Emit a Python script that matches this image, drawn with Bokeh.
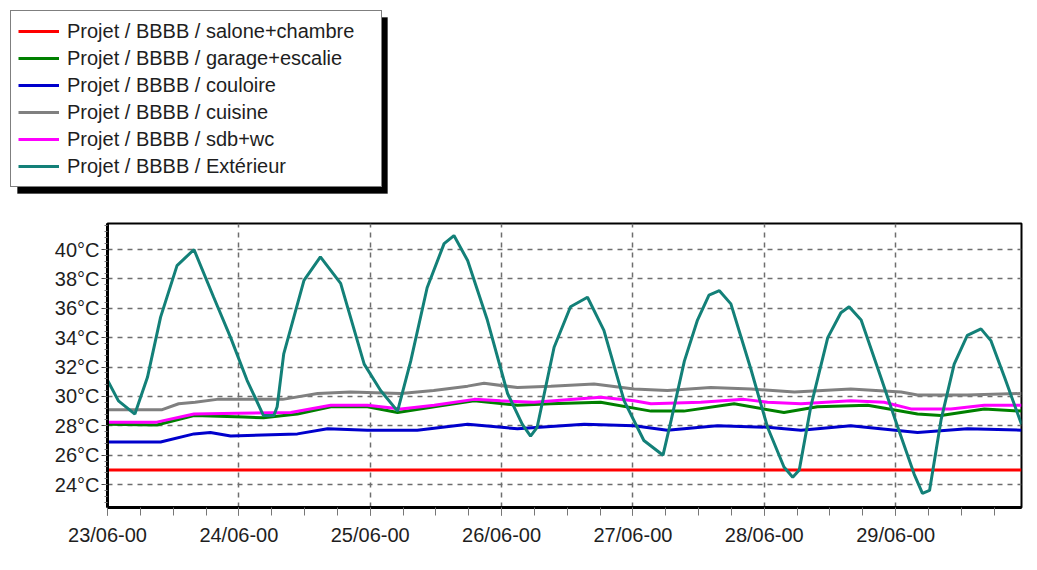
from bokeh.plotting import figure
from bokeh.layouts import column, row
from bokeh.models import (Range1d, FixedTicker, Legend, LegendItem, BoxAnnotation)
from bokeh.embed import file_html
from bokeh.resources import INLINE

# ---- data (hours since 23/06 00:00, temperature in °C) ----
x_tick_hours = [0, 24, 48, 72, 96, 120, 144]
x_tick_labels = ["23/06-00", "24/06-00", "25/06-00", "26/06-00", "27/06-00", "28/06-00", "29/06-00"]
y_tick_values = [24, 26, 28, 30, 32, 34, 36, 38, 40]
y_tick_labels = ["24°C", "26°C", "28°C", "30°C", "32°C", "34°C", "36°C", "38°C", "40°C"]

series_names = ["Projet / BBBB / salone+chambre", "Projet / BBBB / garage+escalie",
                "Projet / BBBB / couloire", "Projet / BBBB / cuisine",
                "Projet / BBBB / sdb+wc", "Projet / BBBB / Extérieur"]

salon_h = [0, 167]
salon_t = [25.0, 25.0]

garage_h = [0, 9, 15.8, 24.9, 28.5, 34.7, 40.8, 47.5, 53, 59.7, 67, 74.9, 81, 90.1, 99.3,
            105.3, 114.5, 123.6, 129.7, 138.9, 148, 152.3, 160.2, 167]
garage_t = [28.1, 28.05, 28.7, 28.6, 28.55, 28.8, 29.3, 29.3, 28.9, 29.3, 29.7, 29.4, 29.5, 29.6, 29.0,
            29.0, 29.5, 28.9, 29.3, 29.4, 28.8, 28.7, 29.15, 29.0]

couloir_h = [0, 9.7, 15.8, 18.8, 22.5, 34.7, 40.2, 47.5, 56.6, 65.8, 74.9, 87.1, 96.2, 102.3,
             111.4, 120.6, 126.7, 135.8, 148, 157.1, 167]
couloir_t = [26.9, 26.9, 27.45, 27.55, 27.3, 27.45, 27.8, 27.7, 27.7, 28.1, 27.8, 28.1, 28.0, 27.7,
             28.0, 27.9, 27.7, 28.0, 27.55, 27.8, 27.7]

cuisine_h = [0, 10, 13, 16, 20, 24, 32, 38.4, 44.4, 53.6, 59.6, 65.8, 68.8, 74.9, 81, 88.9, 96.2,
             102.3, 110.2, 117.6, 125.5, 135.8, 145, 148, 157.1, 167]
cuisine_t = [29.1, 29.1, 29.5, 29.6, 29.8, 29.8, 29.8, 30.2, 30.3, 30.2, 30.4, 30.7, 30.9, 30.6, 30.7,
             30.85, 30.5, 30.4, 30.6, 30.5, 30.3, 30.5, 30.3, 30.1, 30.1, 30.2]

sdb_h = [0, 9, 15.8, 23.8, 33.5, 40.8, 47.5, 53.6, 59.7, 67, 71.8, 77.9, 90.1, 96.2, 99.3, 108.4,
         116.3, 120.6, 126.7, 135.8, 141.9, 146.8, 154.1, 160.2, 167]
sdb_t = [28.25, 28.25, 28.8, 28.85, 28.9, 29.4, 29.4, 29.15, 29.4, 29.8, 29.7, 29.6, 29.95, 29.7, 29.5,
         29.6, 29.8, 29.6, 29.5, 29.7, 29.6, 29.15, 29.15, 29.4, 29.4]

ext_h = [0, 2, 5, 7.3, 9.7, 12.7, 15.8, 19.4, 22.5, 25.5, 28.5, 30.4, 31.0, 32.2, 35.9, 38.9,
         42.6, 46.9, 49.9, 53.0, 55.4, 58.4, 61.5, 63.3, 65.8, 69.4, 73.1, 75.8, 77.3, 78.5,
         81.6, 84.6, 87.7, 90.7, 94.4, 98.0, 101.5, 103.0, 105.4, 107.8, 109.9, 111.8, 113.9,
         117.6, 120.6, 123.6, 125.2, 126.4, 128.5, 131.6, 134.0, 135.5, 137.7, 141.3, 144.4,
         147.4, 148.9, 150.2, 152.3, 154.7, 157.1, 159.6, 161.4, 163.9, 167]
ext_t = [31.1, 29.7, 28.8, 31.3, 35.4, 38.9, 40.0, 36.75, 34.0, 31.1, 28.7, 28.7, 29.3, 32.9, 37.9, 39.5,
         37.7, 32.2, 30.4, 29.0, 32.4, 37.4, 40.4, 40.95, 39.25, 35.2, 30.2, 28.1, 27.3, 27.9,
         33.35, 36.1, 36.75, 34.5, 29.7, 27.0, 26.0, 28.4, 32.4, 35.2, 36.9, 37.2, 36.3,
         31.8, 27.9, 25.2, 24.5, 25.0, 29.3, 34.0, 35.7, 36.1, 35.2, 31.3, 27.9,
         24.7, 23.4, 23.6, 28.4, 32.2, 34.15, 34.6, 33.8, 31.3, 28.1]

colors = ["#ff0000", "#008000", "#0000cc", "#808080", "#ff00ff", "#138078"]

FONT = "Liberation Sans"
TOP_H = 200

# ---------------- legend strip (top) ----------------
top = figure(width=1037, height=TOP_H, output_backend="svg", toolbar_location=None,
             x_range=Range1d(0, 1037), y_range=Range1d(TOP_H, 0),
             x_axis_type=None, y_axis_type=None, min_border=0)
top.outline_line_color = None
top.background_fill_color = "white"
top.border_fill_color = "white"

shadow = BoxAnnotation(left=17, right=387, top=17, bottom=193,
                       fill_color="black", fill_alpha=1.0, line_color="black")
top.add_layout(shadow)

# legend swatches (kept outside the visible range of this strip)
legend_renderers = [top.line([-20, -10], [-20, -20], line_color=c, line_width=3) for c in colors]
legend = Legend(items=[LegendItem(label=n, renderers=[r])
                       for n, r in zip(series_names, legend_renderers)],
                location="top_left")
legend.label_text_font = FONT
legend.label_text_font_size = "20px"
legend.label_text_color = "#1e1e1e"
legend.label_height = 26
legend.glyph_height = 26
legend.glyph_width = 41
legend.label_standoff = 8
legend.label_width = 307
legend.spacing = 1
legend.padding = 7
legend.margin = 10
legend.border_line_color = "black"
legend.border_line_width = 1.5
legend.background_fill_color = "white"
legend.background_fill_alpha = 1.0
top.add_layout(legend)

# ---------------- main chart ----------------
p = figure(width=1037, height=570 - TOP_H, output_backend="svg", toolbar_location=None,
           x_range=Range1d(0, 167), y_range=Range1d(22.44, 41.77),
           min_border_left=107, min_border_right=16, min_border_top=223 - TOP_H,
           min_border_bottom=63)
p.background_fill_color = "white"
p.border_fill_color = "white"
p.outline_line_color = "black"
p.outline_line_width = 2

p.xaxis.ticker = FixedTicker(ticks=x_tick_hours, minor_ticks=list(range(0, 168, 6)))
p.xaxis.major_label_overrides = {h: lab for h, lab in zip(x_tick_hours, x_tick_labels)}
p.yaxis.ticker = FixedTicker(ticks=y_tick_values,
                             minor_ticks=[22.4 + 0.4 * i for i in range(49)])
p.yaxis.major_label_overrides = {v: lab for v, lab in zip(y_tick_values, y_tick_labels)}

for ax in (p.xaxis[0], p.yaxis[0]):
    ax.axis_line_color = "black"
    ax.axis_line_width = 3
    ax.major_tick_in = 0
    ax.minor_tick_in = 0
    ax.major_tick_line_color = "#444444"
    ax.minor_tick_line_color = "#777777"
    ax.major_label_text_font = FONT
    ax.major_label_text_font_size = "20px"
    ax.major_label_text_color = "#1e1e1e"

p.xaxis.major_tick_out = 8
p.xaxis.minor_tick_out = 8
p.xaxis.major_label_standoff = 8
p.yaxis.major_tick_out = 6
p.yaxis.minor_tick_out = 3
p.yaxis.major_label_standoff = 2

p.xgrid.ticker = FixedTicker(ticks=x_tick_hours)
p.ygrid.ticker = FixedTicker(ticks=y_tick_values)
for g in (p.xgrid[0], p.ygrid[0]):
    g.grid_line_color = "#6e6e6e"
    g.grid_line_width = 1.5
    g.grid_line_dash = "5 5"

data = [(salon_h, salon_t), (garage_h, garage_t), (couloir_h, couloir_t),
        (cuisine_h, cuisine_t), (sdb_h, sdb_t), (ext_h, ext_t)]
for (hx, ty), c in zip(data, colors):
    p.line(hx, ty, line_color=c, line_width=3)

layout = column(row(top), p, spacing=0)
open("out.html", "w").write(file_html(layout, INLINE))
